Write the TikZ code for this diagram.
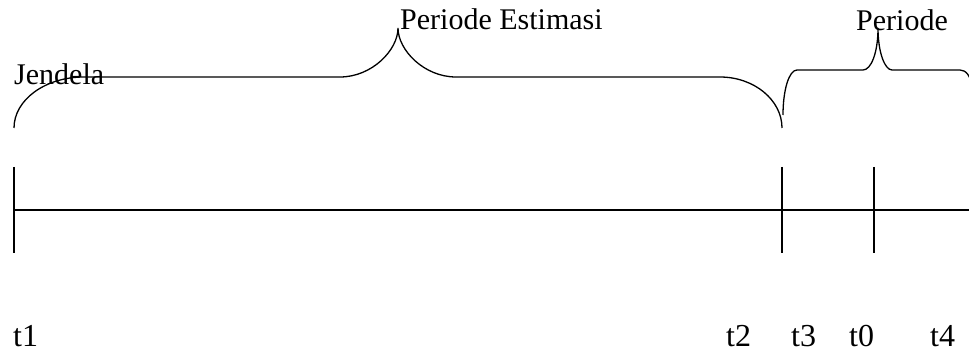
\documentclass[tikz,border=0pt]{standalone}
\usepackage{fontspec}
\setmainfont{Liberation Serif}
\begin{document}
\begin{tikzpicture}[x=1pt,y=-1pt,
  line/.style={line width=1.3pt},
  brace/.style={line width=1.3pt},
  lbl/.style={inner sep=0pt,anchor=base west,font=\fontsize{30}{36}\selectfont},
  tlbl/.style={inner sep=0pt,anchor=base west,font=\fontsize{32}{38}\selectfont}]
\useasboundingbox (0,0) rectangle (969,352);
% timeline
\coordinate (L) at (14,210);
\coordinate (R) at (969,210);
\coordinate (a1) at (14,167);  \coordinate (a2) at (14,253);
\coordinate (b1) at (782,167); \coordinate (b2) at (782,253);
\coordinate (c1) at (874,167); \coordinate (c2) at (874,253);
\draw[line] (L) -- (R);
\draw[line] (a1) -- (a2);
\draw[line] (b1) -- (b2);
\draw[line] (c1) -- (c2);
% big brace
\coordinate (B0) at (14,128);
\coordinate (Btip) at (398,28);
\coordinate (B1) at (782,128);
\draw[brace] (B0) .. controls (14,100) and (45,77) .. (84,77)
  -- (340,77) .. controls (372,77) and (398,50) .. (Btip)
  .. controls (398,50) and (424,77) .. (456,77)
  -- (720,77) .. controls (754,77) and (782,100) .. (B1);
% small brace
\coordinate (S0) at (783,115);
\coordinate (Stip) at (878,28);
\draw[brace] (S0) .. controls (783,90) and (789,70) .. (797,70)
  -- (863,70) .. controls (871,70) and (878,53) .. (Stip)
  .. controls (878,53) and (885,70) .. (892,70)
  -- (960,70) .. controls (966,70) and (971,76) .. (972,88);
% labels
\node[lbl] (jendela) at (14,85) {Jendela};
\node[lbl] (pest) at (400,30) {Periode Estimasi};
\node[lbl] (per) at (856,31) {Periode};
\node[tlbl] (t1) at (13,347) {t1};
\node[tlbl] (t2) at (726,347) {t2};
\node[tlbl] (t3) at (791,347) {t3};
\node[tlbl] (t0) at (849,347) {t0};
\node[tlbl] (t4) at (930,347) {t4};
\end{tikzpicture}
\end{document}
